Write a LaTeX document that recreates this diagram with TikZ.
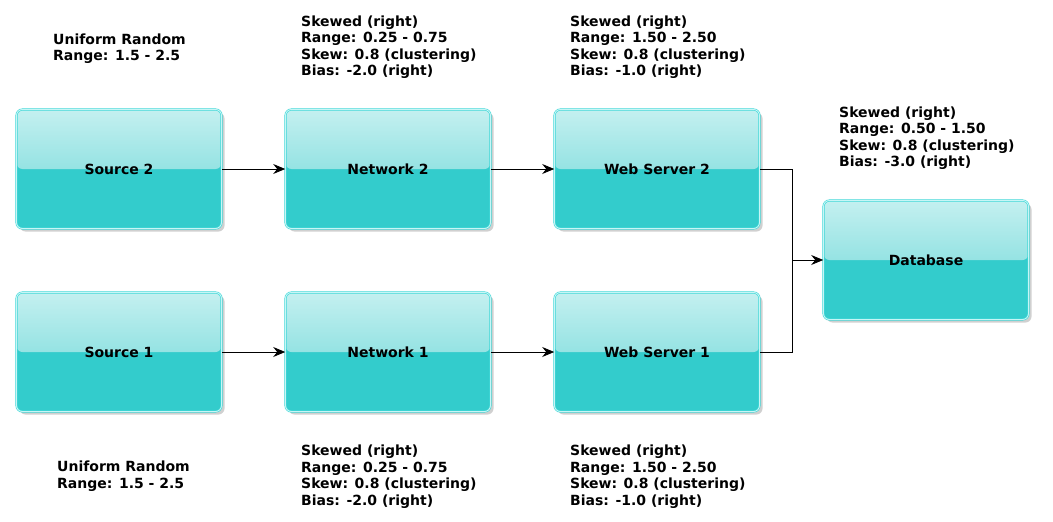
\documentclass[tikz,border=0pt]{standalone}
\usepackage{fontspec}
\setmainfont{DejaVu Sans}
\usetikzlibrary{shadows,arrows.meta}
\definecolor{boxbase}{HTML}{33CCCC}
\definecolor{boxtop}{HTML}{C4F0F0}
\definecolor{boxmid}{HTML}{66D6D6}
\definecolor{boxedge}{HTML}{40D8D8}
\definecolor{boxinner}{HTML}{C8F6F6}
\tikzset{
  box/.style={
    rectangle, rounded corners=6pt, minimum width=205pt, minimum height=119pt,
    inner sep=0pt, fill=boxbase, draw=boxedge, line width=0.6pt,
    double=boxinner, double distance=0.9pt,
    font=\fontsize{14}{16.5}\selectfont\bfseries,
    drop shadow={shadow xshift=3pt, shadow yshift=-3pt, opacity=0.3, fill=black!60},
    path picture={
      \shade[top color=boxtop, bottom color=boxmid]
        (path picture bounding box.north west) rectangle (path picture bounding box.east);
    }
  },
  lbl/.style={anchor=north west, inner sep=0pt, align=left,
    font=\fontsize{14}{16.5}\selectfont\bfseries},
  conn/.style={line width=0.9pt, -{Stealth[length=12pt,width=10pt,inset=4pt]}}
}
\begin{document}
\begin{tikzpicture}[x=1pt,y=-1pt]
\useasboundingbox[fill=white] (0,0) rectangle (1053,522);

\node[box] (src2) at (119,169) {Source 2};
\node[box] (net2) at (388,169) {Network 2};
\node[box] (ws2) at (657,169) {Web Server 2};
\node[box] (src1) at (119,352) {Source 1};
\node[box] (net1) at (388,352) {Network 1};
\node[box] (ws1) at (657,352) {Web Server 1};
\node[box] (db) at (926,260) {Database};

\coordinate (join) at (792,260);

\draw[conn] (src2.east) -- (net2.west);
\draw[conn] (net2.east) -- (ws2.west);
\draw[conn] (src1.east) -- (net1.west);
\draw[conn] (net1.east) -- (ws1.west);
\draw[line width=0.9pt] (ws2.east) -| (join);
\draw[line width=0.9pt] (ws1.east) -| (join);
\draw[conn] (join) -- (db.west);

\node[lbl] (lsrc2) at (53,33) {\rule{0pt}{11pt}Uniform Random\\Range: 1.5 - 2.5};
\node[lbl] (lnet2) at (301,15) {\rule{0pt}{11pt}Skewed (right)\\Range: 0.25 - 0.75\\Skew: 0.8 (clustering)\\Bias: -2.0 (right)};
\node[lbl] (lws2) at (570,15) {\rule{0pt}{11pt}Skewed (right)\\Range: 1.50 - 2.50\\Skew: 0.8 (clustering)\\Bias: -1.0 (right)};
\node[lbl] (ldb) at (839,106) {\rule{0pt}{11pt}Skewed (right)\\Range: 0.50 - 1.50\\Skew: 0.8 (clustering)\\Bias: -3.0 (right)};
\node[lbl] (lsrc1) at (57,460.7) {\rule{0pt}{11pt}Uniform Random\\Range: 1.5 - 2.5};
\node[lbl] (lnet1) at (301,444.5) {\rule{0pt}{11pt}Skewed (right)\\Range: 0.25 - 0.75\\Skew: 0.8 (clustering)\\Bias: -2.0 (right)};
\node[lbl] (lws1) at (570,444.5) {\rule{0pt}{11pt}Skewed (right)\\Range: 1.50 - 2.50\\Skew: 0.8 (clustering)\\Bias: -1.0 (right)};
\end{tikzpicture}
\end{document}
